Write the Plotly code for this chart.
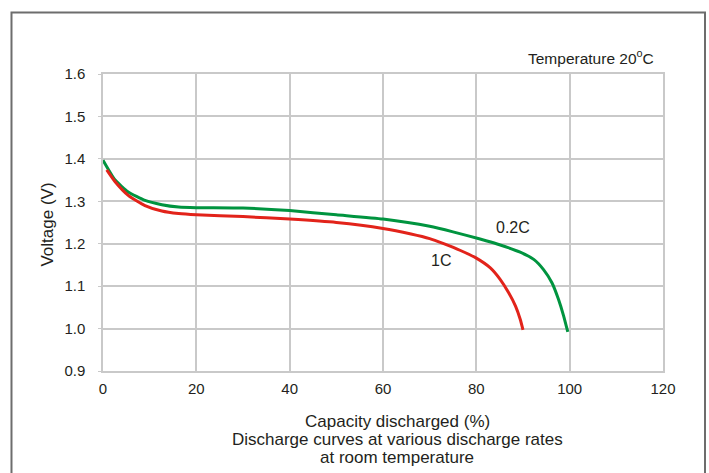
import plotly.graph_objects as go

# Data
cap_02c = [0, 2.6, 5.4, 9.0, 12.6, 16.2, 20, 30, 40, 50, 60, 70, 75, 80.8, 84.3, 89.4, 92.3, 94.4, 96.2, 97.6, 98.7, 99.6]
volt_02c = [1.397, 1.350, 1.322, 1.302, 1.292, 1.2865, 1.285, 1.284, 1.278, 1.268, 1.258, 1.241, 1.228,
            1.211, 1.200, 1.180, 1.163, 1.139, 1.108, 1.069, 1.030, 0.992]

cap_1c = [0.8, 2.6, 5.4, 9.0, 12.6, 16.2, 20, 30, 40, 50, 60, 66, 70, 73, 76.6, 80, 83.0, 85.1, 86.9, 88.4, 89.4, 90.0]
volt_1c = [1.374, 1.346, 1.314, 1.290, 1.277, 1.271, 1.268, 1.264, 1.258, 1.250, 1.236, 1.223, 1.212, 1.200,
           1.184, 1.166, 1.143, 1.116, 1.085, 1.053, 1.022, 0.997]

x_ticks = [0, 20, 40, 60, 80, 100, 120]
y_ticks = [0.9, 1.0, 1.1, 1.2, 1.3, 1.4, 1.5, 1.6]
y_tick_text = ["0.9", "1.0", "1.1", "1.2", "1.3", "1.4", "1.5", "1.6"]

series_labels = ["0.2C", "1C"]
label_pos = [(87.9, 1.239), (72.5, 1.16)]

GREEN = "#00943f"
RED = "#e2231a"
GRID = "#c9c9c9"
FONT = "Liberation Sans"

fig = go.Figure()
fig.add_trace(go.Scatter(x=cap_02c, y=volt_02c, mode="lines", name="0.2C",
                         line=dict(color=GREEN, width=3, shape="spline", smoothing=0.5)))
fig.add_trace(go.Scatter(x=cap_1c, y=volt_1c, mode="lines", name="1C",
                         line=dict(color=RED, width=3, shape="spline", smoothing=0.5)))

for lab, (lx, ly) in zip(series_labels, label_pos):
    fig.add_annotation(x=lx, y=ly, text=lab, showarrow=False,
                       font=dict(family=FONT, size=16, color="#231f20"))

# Temperature note
fig.add_annotation(xref="paper", yref="paper", x=0.9875, y=1.058, xanchor="right", yanchor="middle",
                   text="Temperature 20<sup>o</sup>C", showarrow=False,
                   font=dict(family=FONT, size=15.5, color="#231f20"))

# Y title
fig.add_annotation(xref="paper", yref="paper", x=-0.099, y=0.4916, textangle=-90,
                   xanchor="center", yanchor="middle", text="Voltage (V)", showarrow=False,
                   font=dict(family=FONT, size=17, color="#231f20"))

# X title lines
x_title_lines = ["Capacity discharged (%)", "Discharge curves at various discharge rates", "at room temperature"]
for txt, py in zip(x_title_lines, [-0.170, -0.2323, -0.2929]):
    fig.add_annotation(xref="paper", yref="paper", x=0.525, y=py, xanchor="center", yanchor="middle",
                       text=txt, showarrow=False, font=dict(family=FONT, size=17, color="#231f20"))

# Outer frame
fig.add_shape(type="rect", xref="paper", yref="paper", x0=-0.1634, x1=1.0750, y0=-0.6, y1=1.2071,
              line=dict(color="#6d6d6d", width=2), fillcolor="rgba(0,0,0,0)", layer="below")

fig.update_xaxes(range=[0, 120], tickvals=x_ticks, ticktext=[str(v) for v in x_ticks],
                 showgrid=True, gridcolor=GRID, gridwidth=1.5, zeroline=False,
                 showline=True, mirror=True, linecolor=GRID, linewidth=1.5,
                 ticks="outside", ticklen=0, tickcolor=GRID,
                 tickfont=dict(family=FONT, size=15, color="#231f20"), ticklabelstandoff=3)
fig.update_yaxes(range=[0.9, 1.6], tickvals=y_ticks, ticktext=y_tick_text,
                 showgrid=True, gridcolor=GRID, gridwidth=1.5, zeroline=False,
                 showline=True, mirror=True, linecolor=GRID, linewidth=1.5,
                 ticks="outside", ticklen=3, tickcolor=GRID,
                 tickfont=dict(family=FONT, size=15, color="#231f20"), ticklabelstandoff=10)

fig.update_layout(width=709, height=473, showlegend=False,
                  margin=dict(l=103, r=46, t=74, b=102),
                  paper_bgcolor="white", plot_bgcolor="white",
                  font=dict(family=FONT, color="#231f20"))

fig.write_html("out.html", config={"displayModeBar": False},
               post_script="document.body.style.margin='0';")
